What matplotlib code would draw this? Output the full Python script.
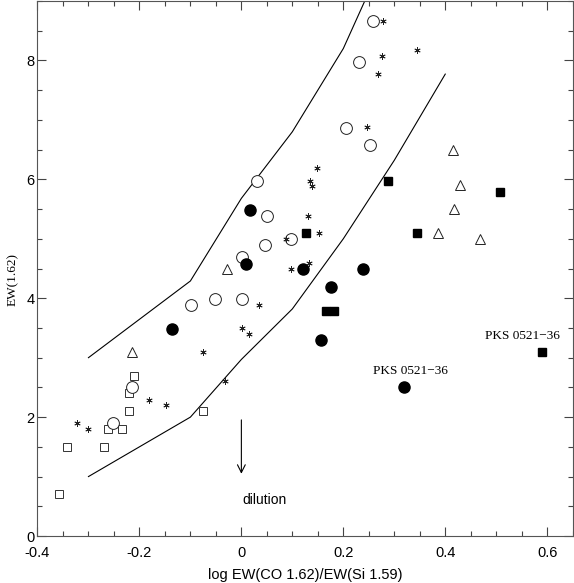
import matplotlib
matplotlib.use("Agg")
import matplotlib.pyplot as plt
from matplotlib.ticker import MultipleLocator

# data
sq_open_x = [-0.358, -0.342, -0.270, -0.262, -0.235, -0.221, -0.221, -0.211, -0.075]
sq_open_y = [0.70, 1.50, 1.50, 1.80, 1.80, 2.10, 2.40, 2.70, 2.10]

circ_open_x = [-0.252, -0.214, -0.098, -0.051, 0.001, 0.001, 0.047, 0.098, 0.051, 0.030, 0.205, 0.252, 0.231, 0.259]
circ_open_y = [1.90, 2.50, 3.89, 3.99, 3.99, 4.69, 4.89, 4.99, 5.39, 5.98, 6.87, 6.58, 7.97, 8.67]

circ_fill_x = [-0.136, 0.017, 0.010, 0.121, 0.176, 0.156, 0.239, 0.319]
circ_fill_y = [3.49, 5.48, 4.58, 4.49, 4.19, 3.29, 4.49, 2.50]

sq_fill_x = [0.127, 0.166, 0.182, 0.287, 0.345, 0.508, 0.589]
sq_fill_y = [5.09, 3.79, 3.79, 5.98, 5.09, 5.78, 3.09]

tri_x = [-0.215, -0.028, 0.385, 0.415, 0.428, 0.418, 0.469]
tri_y = [3.10, 4.50, 5.10, 6.50, 5.91, 5.50, 5.00]

star_x = [-0.323, -0.300, -0.182, -0.148, -0.032, -0.075, 0.001, 0.014, 0.035, 0.087, 0.098,
          0.132, 0.152, 0.130, 0.135, 0.138, 0.149, 0.247, 0.268, 0.275, 0.277, 0.345]
star_y = [1.90, 1.80, 2.29, 2.20, 2.60, 3.09, 3.50, 3.40, 3.89, 4.99, 4.49,
          4.59, 5.09, 5.39, 5.98, 5.88, 6.19, 6.88, 7.78, 8.07, 8.67, 8.17]

# envelope curves
up_x = [-0.30, -0.10, 0.00, 0.10, 0.20, 0.25]
up_y = [3.00, 4.29, 5.68, 6.80, 8.20, 9.15]
lo_x = [-0.30, -0.10, 0.00, 0.10, 0.20, 0.30, 0.40]
lo_y = [1.00, 2.00, 2.97, 3.82, 5.00, 6.32, 7.77]

fig = plt.figure(figsize=(5.74, 5.83), dpi=100)
ax = fig.add_axes([0.0653, 0.0806, 0.9324, 0.9177])

lw = 0.8
ax.plot(up_x, up_y, color="black", lw=lw)
ax.plot(lo_x, lo_y, color="black", lw=lw)

ax.plot(sq_open_x, sq_open_y, ls="none", marker="s", ms=6, mfc="white", mec="#333333", mew=0.7)
ax.plot(circ_open_x, circ_open_y, ls="none", marker="o", ms=8.5, mfc="white", mec="#222222", mew=0.7)
ax.plot(circ_fill_x, circ_fill_y, ls="none", marker="o", ms=8, mfc="black", mec="black")
ax.plot(sq_fill_x, sq_fill_y, ls="none", marker="s", ms=5.5, mfc="black", mec="black")
ax.plot(tri_x, tri_y, ls="none", marker="^", ms=7, mfc="white", mec="#222222", mew=0.7)
ax.plot(star_x, star_y, ls="none", marker=(6, 2, 0), ms=4.5, mec="#222222", mew=0.6)

# dilution arrow
ax.annotate("", xy=(0.0, 1.0), xytext=(0.0, 2.0),
            arrowprops=dict(arrowstyle="->", lw=0.8, color="black", mutation_scale=14))
ax.text(0.046, 0.60, "dilution", ha="center", va="center", fontsize=10, family="Liberation Sans")

ax.text(0.331, 2.77, "PKS 0521\u221236", ha="center", va="center", fontsize=9.5, family="Liberation Serif")
ax.text(0.552, 3.36, "PKS 0521\u221236", ha="center", va="center", fontsize=9.5, family="Liberation Serif")

ax.set_xlim(-0.4, 0.65)
ax.set_ylim(0, 9)
ax.xaxis.set_major_locator(MultipleLocator(0.2))
ax.xaxis.set_minor_locator(MultipleLocator(0.05))
ax.yaxis.set_major_locator(MultipleLocator(2))
ax.yaxis.set_minor_locator(MultipleLocator(0.5))
ax.tick_params(which="both", direction="in", top=True, right=True, color="#444444", width=0.8)
ax.tick_params(which="major", length=6.5)
ax.tick_params(which="minor", length=3.6)
ax.tick_params(axis="x", which="major", pad=7, labelsize=10.5)
ax.tick_params(axis="y", which="major", pad=2, labelsize=10.5)
for lab in ax.get_xticklabels() + ax.get_yticklabels():
    lab.set_family("Liberation Sans")
ax.xaxis.set_major_formatter(plt.FuncFormatter(lambda v, p: "%g" % round(v, 2)))
ax.yaxis.set_major_formatter(plt.FuncFormatter(lambda v, p: "%g" % v))
for s in ax.spines.values():
    s.set_color("#555555")
    s.set_linewidth(0.8)

ax.set_xlabel("log EW(CO 1.62)/EW(Si 1.59)", fontsize=10.5, family="Liberation Sans", labelpad=6)
ax.set_ylabel("EW(1.62)", fontsize=9.5, family="Liberation Serif")
ax.yaxis.set_label_coords(-0.034, 0.48)

fig.savefig("out.png", dpi=100)
